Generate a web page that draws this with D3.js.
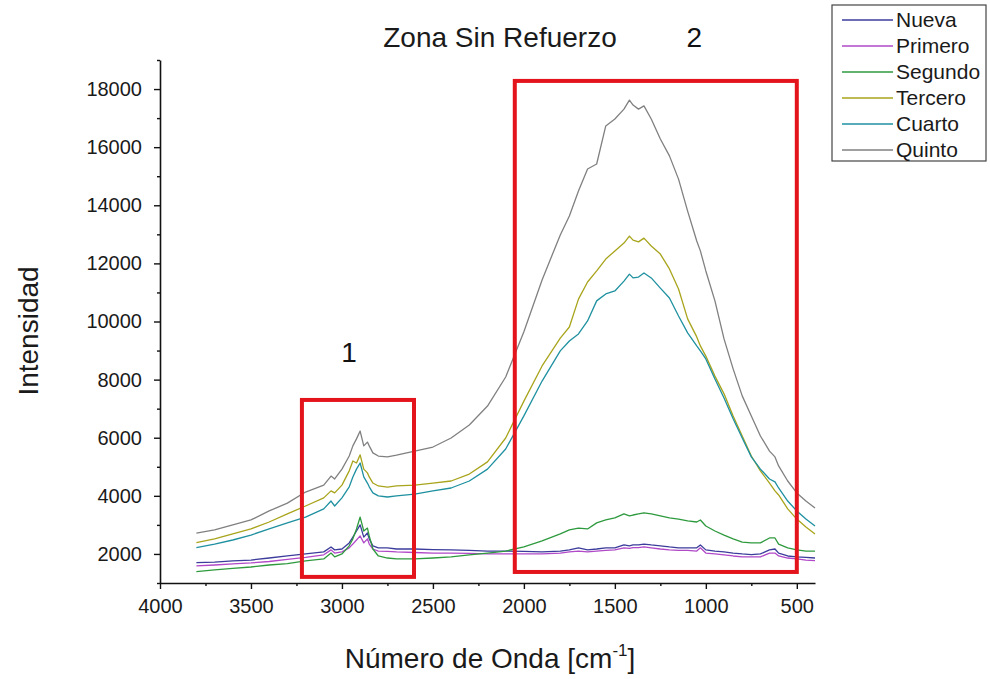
<!DOCTYPE html>
<html>
<head>
<meta charset="utf-8">
<script src="https://cdn.jsdelivr.net/npm/d3@7"></script>
<style>
  body { margin: 0; background: #fff; }
  svg { display: block; font-family: "Liberation Sans", Arial, sans-serif; }
</style>
</head>
<body>
<svg id="chart" width="990" height="679"></svg>
<script>
const wavenumbers = [3800,3700,3600,3500,3400,3300,3200,3100,3060,3040,3000,2960,2940,2920,2900,2880,2860,2850,2830,2800,2750,2700,2600,2500,2400,2300,2200,2100,2000,1900,1800,1750,1700,1650,1600,1550,1500,1450,1420,1400,1370,1340,1300,1250,1200,1150,1100,1050,1030,1000,950,900,850,800,750,700,650,620,600,550,500,450,400];

const nueva   = [1700,1720,1760,1790,1860,1930,2000,2070,2240,2140,2170,2380,2580,2790,3000,2580,2720,2520,2280,2210,2210,2170,2170,2150,2140,2120,2100,2100,2090,2070,2100,2140,2210,2140,2170,2210,2210,2310,2280,2310,2310,2340,2310,2280,2240,2210,2210,2210,2310,2140,2100,2070,2030,2000,1980,2000,2140,2170,2030,1930,1900,1880,1860];
const primero = [1590,1620,1660,1690,1740,1810,1880,1970,2140,2030,2070,2210,2340,2480,2620,2380,2520,2340,2170,2100,2090,2070,2050,2030,2030,2020,2000,2000,2000,2000,2030,2070,2100,2070,2100,2120,2140,2210,2190,2220,2220,2240,2210,2170,2140,2120,2120,2100,2210,2030,2000,1970,1930,1900,1900,1900,2030,2030,1930,1860,1830,1790,1770];
const segundo = [1390,1450,1500,1550,1620,1670,1760,1830,2030,1900,2000,2280,2520,2860,3270,2790,2890,2620,2170,1930,1860,1830,1830,1860,1900,1970,2030,2100,2240,2450,2690,2830,2890,2860,3070,3170,3240,3380,3310,3340,3380,3410,3380,3310,3240,3200,3140,3100,3170,2960,2790,2650,2520,2410,2380,2380,2550,2550,2340,2210,2140,2100,2100];
const tercero = [2390,2520,2690,2860,3100,3380,3650,3930,4170,4100,4370,4860,5200,5130,5410,4920,4790,4650,4440,4340,4300,4340,4370,4440,4510,4750,5170,5990,7260,8470,9430,9810,10770,11360,11740,12150,12430,12700,12940,12800,12740,12870,12600,12320,11810,11120,10090,9470,9160,8810,8120,7510,6750,6060,5370,4860,4440,4170,4030,3550,3200,2930,2690];
const cuarto  = [2220,2340,2480,2650,2860,3070,3270,3550,3820,3650,3930,4310,4650,4920,5130,4650,4440,4310,4100,4000,3960,4000,4060,4170,4270,4510,4920,5610,6750,7950,8990,9330,9570,10020,10710,10950,11050,11390,11630,11500,11530,11670,11500,11150,10810,10190,9610,9160,8990,8710,8020,7370,6650,5990,5340,4920,4580,4480,4270,3820,3480,3200,2960];
const quinto  = [2720,2826,3000,3170,3480,3750,4130,4370,4680,4580,4920,5370,5720,5960,6230,5720,5850,5720,5480,5370,5340,5400,5540,5680,5990,6440,7090,8090,9650,11430,12980,13630,14490,15250,15420,16730,16970,17310,17620,17450,17310,17420,16970,16280,15700,14900,13800,12770,12430,11740,10710,9400,8370,7440,6750,6060,5540,5340,5030,4510,4100,3820,3580];

const seriesNames  = ["Nueva","Primero","Segundo","Tercero","Cuarto","Quinto"];
const seriesValues = [nueva, primero, segundo, tercero, cuarto, quinto];
const seriesColors = ["#3c3c9c","#b048c8","#2e9a3e","#a8a41c","#1e90a0","#808080"];

const xMajorTicks = [4000,3500,3000,2500,2000,1500,1000,500];
const xMinorTicks = [3750,3250,2750,2250,1750,1250,750];
const yMajorTicks = [2000,4000,6000,8000,10000,12000,14000,16000,18000];
const yMinorTicks = [1000,3000,5000,7000,9000,11000,13000,15000,17000,19000];

// annotation boxes [w1, w2, v1, v2] and labels
const boxes = [[3220,2604,1210,7300],[2050,500,1380,18280]];
const boxLabels = [["1",2961,8606],["2",1063,19440]];

const svg = d3.select("#chart");
const x = d3.scaleLinear().domain([4000,400]).range([160,815]);
const y = d3.scaleLinear().domain([1000,19000]).range([583,60]);

// axes
const gx = svg.append("g").attr("transform","translate(0,583)");
gx.call(d3.axisBottom(x).tickValues(xMajorTicks).tickSize(6).tickSizeOuter(0).tickPadding(10).tickFormat(d3.format("d")));
const gxm = svg.append("g").attr("transform","translate(0,583)");
gxm.call(d3.axisBottom(x).tickValues(xMinorTicks).tickSize(3).tickSizeOuter(0).tickFormat(""));
gxm.select(".domain").remove();

const gy = svg.append("g").attr("transform","translate(160,0)");
gy.call(d3.axisLeft(y).tickValues(yMajorTicks).tickSize(6).tickSizeOuter(0).tickPadding(12).tickFormat(d3.format("d")));
const gym = svg.append("g").attr("transform","translate(160,0)");
gym.call(d3.axisLeft(y).tickValues(yMinorTicks).tickSize(3).tickSizeOuter(0).tickFormat(""));
gym.select(".domain").remove();

svg.selectAll(".domain").attr("stroke","#111").attr("stroke-width",1.6);
svg.selectAll(".tick line").attr("stroke","#111").attr("stroke-width",1.4);
svg.selectAll(".tick text").attr("font-size",20).attr("fill","#1a1a1a").attr("font-family","Liberation Sans, Arial, sans-serif");

// lines
const line = d3.line().x((d,i)=>x(wavenumbers[i])).y(d=>y(d)).curve(d3.curveLinear);
seriesValues.forEach((vals,k)=>{
  svg.append("path").datum(vals)
    .attr("d",line).attr("fill","none")
    .attr("stroke",seriesColors[k]).attr("stroke-width",1.3)
    .attr("stroke-linejoin","round");
});

// red boxes
boxes.forEach(b=>{
  svg.append("rect")
    .attr("x",x(b[0])).attr("y",y(b[3]))
    .attr("width",x(b[1])-x(b[0])).attr("height",y(b[2])-y(b[3]))
    .attr("fill","none").attr("stroke","#e3141b").attr("stroke-width",4);
});
boxLabels.forEach(l=>{
  svg.append("text").attr("x",x(l[1])).attr("y",y(l[2]))
    .attr("text-anchor","middle").attr("font-size",28).attr("fill","#111").text(l[0]);
});

// title
svg.append("text").attr("x",500).attr("y",47).attr("text-anchor","middle")
  .attr("font-size",28).attr("fill","#1a1a1a").text("Zona Sin Refuerzo");

// axis titles
svg.append("text").attr("transform","translate(38,331) rotate(-90)")
  .attr("text-anchor","middle").attr("font-size",28).attr("fill","#1a1a1a").text("Intensidad");
const xt = svg.append("text").attr("x",490).attr("y",668).attr("text-anchor","middle")
  .attr("font-size",28).attr("fill","#1a1a1a");
xt.append("tspan").text("Número de Onda [cm");
xt.append("tspan").attr("font-size",17).attr("dy",-12).text("-1");
xt.append("tspan").attr("dy",12).text("]");

// legend
const lg = svg.append("g");
lg.append("rect").attr("x",832).attr("y",5).attr("width",154).attr("height",156)
  .attr("fill","#fff").attr("stroke","#444").attr("stroke-width",1.2);
seriesNames.forEach((n,i)=>{
  const yy = 20 + i*26;
  lg.append("line").attr("x1",842).attr("x2",893).attr("y1",yy).attr("y2",yy)
    .attr("stroke",seriesColors[i]).attr("stroke-width",1.6);
  lg.append("text").attr("x",896).attr("y",yy+7).attr("font-size",21).attr("fill","#1a1a1a").text(n);
});
</script>
</body>
</html>
